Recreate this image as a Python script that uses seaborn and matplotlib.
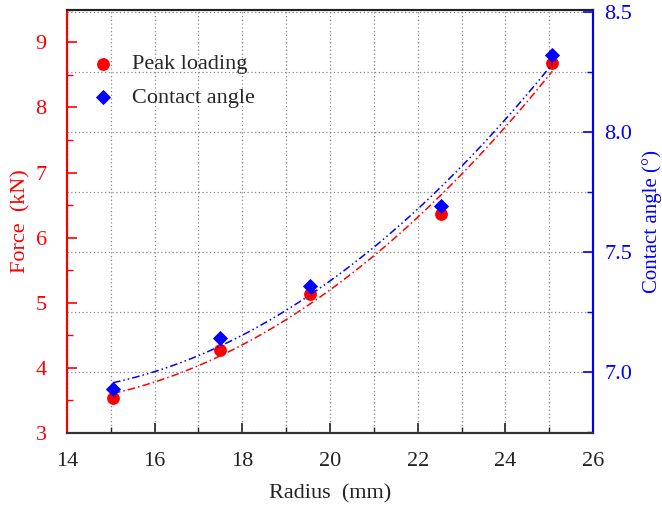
import numpy as np
import pandas as pd
import seaborn as sns
import matplotlib
matplotlib.use("Agg")
import matplotlib.pyplot as plt
from matplotlib.ticker import MultipleLocator, FormatStrFormatter

# ---- data ----
radius = [15.05, 17.5, 19.55, 22.53, 25.07]
force = [3.53, 4.27, 5.14, 6.37, 8.68]
angle = [6.93, 7.14, 7.36, 7.69, 8.32]
force_label = "Peak loading"
angle_label = "Contact angle"

df = pd.DataFrame({"radius": radius, "force": force, "angle": angle})

sns.set_theme(style="white")
plt.rcParams["font.family"] = ["Liberation Serif", "DejaVu Serif"]
plt.rcParams["mathtext.fontset"] = "stix"

RED = "#ff0000"
BLUE = "#0000ff"
FS = 16

fig = plt.figure(figsize=(6.62, 5.05), dpi=100)
ax = fig.add_axes([0.101, 0.1426, 0.795, 0.838])
ax2 = ax.twinx()

# grids
ax.set_axisbelow(True)
ax2.set_axisbelow(True)
ax.xaxis.set_major_locator(MultipleLocator(2))
ax.xaxis.set_minor_locator(MultipleLocator(1))
ax.grid(axis="x", which="both", color="#888888", linestyle=(0, (1, 2)), linewidth=0.9)
ax2.yaxis.set_major_locator(MultipleLocator(0.5))
ax2.yaxis.set_minor_locator(MultipleLocator(0.25))
ax2.grid(axis="y", which="both", color="#888888", linestyle=(0, (1, 2)), linewidth=0.9)

# fits
sns.regplot(data=df, x="radius", y="force", order=2, ci=None, scatter=False, ax=ax,
            truncate=True, line_kws=dict(color=RED, lw=1.1, linestyle=(0, (5, 2, 1, 2))))
sns.regplot(data=df, x="radius", y="angle", order=2, ci=None, scatter=False, ax=ax2,
            truncate=True, line_kws=dict(color=BLUE, lw=1.1, linestyle=(0, (5, 2, 1, 2, 1, 2))))

# points
sns.scatterplot(data=df, x="radius", y="force", ax=ax, color=RED, marker="o", s=85,
                edgecolor=RED, linewidth=0, label=force_label, zorder=5)
sns.scatterplot(data=df, x="radius", y="angle", ax=ax2, color=BLUE, marker="D", s=60,
                edgecolor=BLUE, linewidth=0, label=angle_label, zorder=5)

ax.set_xlim(14, 26)
ax.set_ylim(3, 9.5)
ax2.set_ylim(6.745, 8.51)

ax.yaxis.set_major_locator(MultipleLocator(1))
ax.yaxis.set_minor_locator(MultipleLocator(0.5))
ax2.yaxis.set_major_formatter(FormatStrFormatter("%.1f"))

# ticks
ax.tick_params(axis="x", which="major", direction="in", length=7, width=1.2, colors="#222222",
               labelsize=FS, pad=14, bottom=True, top=False)
ax.tick_params(axis="x", which="minor", direction="in", length=4, width=1.0, color="#222222",
               bottom=True, top=False)
ax.tick_params(axis="y", which="major", direction="in", length=7, width=1.2, colors=RED,
               labelsize=FS, pad=14.5, left=True, right=False)
ax.tick_params(axis="y", which="minor", direction="in", length=4, width=1.0, color=RED, left=True, right=False)
ax2.tick_params(axis="y", which="major", direction="in", length=7, width=1.2, colors=BLUE,
                labelsize=FS, pad=8, right=True, left=False)
ax2.tick_params(axis="y", which="minor", direction="in", length=4, width=1.0, color=BLUE, right=True, left=False)

# spines
for a in (ax, ax2):
    for s in a.spines.values():
        s.set_linewidth(1.5)
ax.spines["left"].set_color(RED)
ax2.spines["left"].set_color(RED)
ax.spines["right"].set_color(BLUE)
ax2.spines["right"].set_color(BLUE)
ax.spines["top"].set_color("#222222")
ax2.spines["top"].set_color("#222222")
ax.spines["bottom"].set_color("#333333")
ax2.spines["bottom"].set_color("#333333")

ax.set_xlabel("Radius  (mm)", fontsize=FS, color="#222222", labelpad=9)
ax.set_ylabel("Force  (kN)", fontsize=FS, color=RED, labelpad=3.5)
ax2.set_ylabel("Contact angle (°)", fontsize=15, color=BLUE, labelpad=7)

# legend
h1, l1 = ax.get_legend_handles_labels()
h2, l2 = ax2.get_legend_handles_labels()
if ax2.get_legend() is not None:
    ax2.get_legend().remove()
leg = ax.legend(h1 + h2, l1 + l2, loc="upper left", bbox_to_anchor=(0.03, 0.917),
                frameon=False, fontsize=FS, handlelength=1.0, handletextpad=0.8,
                labelspacing=0.6, borderaxespad=0.0)
ax.set_zorder(ax2.get_zorder())

fig.savefig("out.png", dpi=100)
